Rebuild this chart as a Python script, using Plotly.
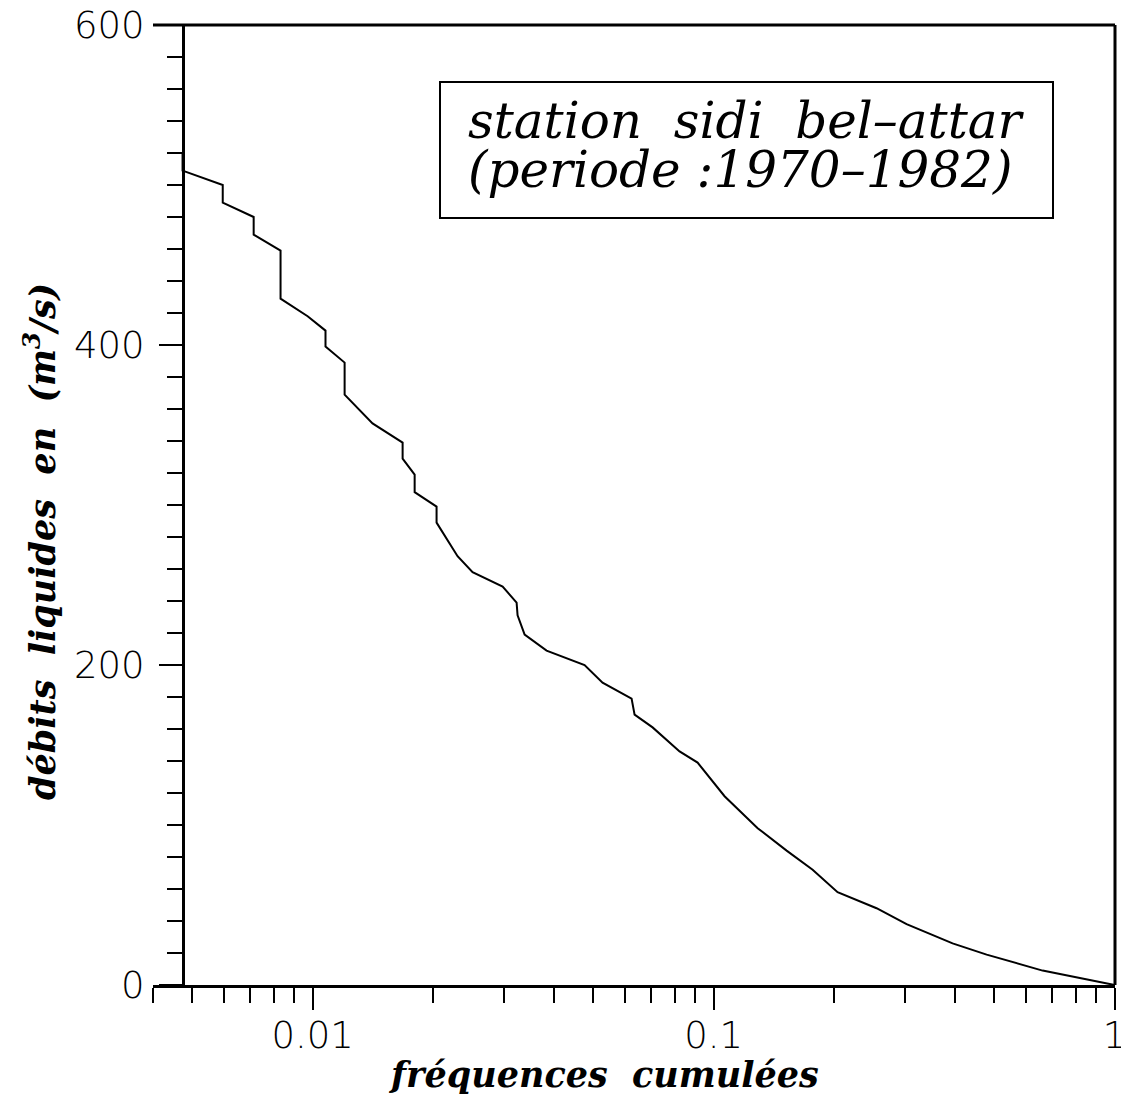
import math
import plotly.graph_objects as go

# Courbe des débits classés : fréquences cumulées (échelle log) vs débits (m3/s)
frequences = [0.00474, 0.00474, 0.00597, 0.00597, 0.00713, 0.00713, 0.00832, 0.00832,
              0.00972, 0.01077, 0.01077, 0.01202, 0.01202, 0.01411, 0.01677, 0.01677,
              0.01797, 0.01797, 0.02038, 0.02038, 0.02299, 0.02506, 0.02978, 0.03227,
              0.03245, 0.03379, 0.03833, 0.04767, 0.05286, 0.06245, 0.06353, 0.07045,
              0.08226, 0.09123, 0.1065, 0.1288, 0.1521, 0.1766, 0.2038, 0.2549,
              0.3029, 0.3945, 0.4797, 0.6614, 1.0]
debits = [520, 509, 500, 489, 480, 469, 459, 429,
          418, 409, 399, 389, 369, 351, 339, 329,
          319, 308, 299, 289, 268, 258, 249, 239,
          231, 219, 209, 200, 189, 179, 169, 161,
          146, 139, 118, 98, 84, 72, 58, 48,
          38, 26, 19, 9, 0]

x_major = [0.01, 0.1, 1]
x_major_text = ["0.01", "0.1", "1"]
x_minor = [0.004, 0.005, 0.006, 0.007, 0.008, 0.009,
           0.02, 0.03, 0.04, 0.05, 0.06, 0.07, 0.08, 0.09,
           0.2, 0.3, 0.4, 0.5, 0.6, 0.7, 0.8, 0.9]
y_major = [0, 200, 400, 600]

titre_1 = "station  sidi  bel–attar"
titre_2 = "(periode :1970–1982)"
titre_x = "fréquences  cumulées"
titre_y = "débits  liquides  en  (m<sup>3</sup>/s)"

W, H = 1121, 1097
ML, MR, MT, MB = 153, 6, 25, 112
pw = W - ML - MR
ph = H - MT - MB

tick_font = dict(family="DejaVu Sans", size=37, color="black", weight=200)
serif = dict(family="DejaVu Serif", size=50, color="black", style="italic")
serif_b = dict(family="DejaVu Serif", size=35, color="black", style="italic", weight="bold")

fig = go.Figure()
fig.add_trace(go.Scatter(x=frequences, y=debits, mode="lines",
                         line=dict(color="black", width=2), cliponaxis=False,
                         showlegend=False, hoverinfo="skip"))

fig.update_layout(
    width=W, height=H,
    margin=dict(l=ML, r=MR, t=MT, b=MB, pad=0, autoexpand=False),
    paper_bgcolor="white", plot_bgcolor="white",
    showlegend=False,
    xaxis=dict(type="log", range=[math.log10(0.004), 0.001], automargin=False,
               showgrid=False, zeroline=False,
               showline=True, linecolor="black", linewidth=3,
               ticks="outside", ticklen=22, tickwidth=2, tickcolor="black",
               tickvals=x_major, ticktext=x_major_text, tickfont=tick_font,
               ticklabelstandoff=-6, ticklabeloverflow="allow",
               minor=dict(tickvals=x_minor, ticks="outside", ticklen=15,
                          tickwidth=2, tickcolor="black", showgrid=False)),
    yaxis=dict(range=[0, 600], anchor="free", position=30 / pw, automargin=False,
               showgrid=False, zeroline=False,
               showline=True, linecolor="black", linewidth=3,
               ticks="outside", ticklen=23, tickwidth=2, tickcolor="black",
               tickvals=y_major, tickfont=tick_font, ticklabelstandoff=7,
               ticklabeloverflow="allow",
               minor=dict(dtick=20, ticks="outside", ticklen=15,
                          tickwidth=2, tickcolor="black", showgrid=False)),
)

def px_x(px):
    return (px - ML) / pw

def px_y(py):
    return (H - MB - py) / ph

# cadre (haut et droite)
fig.add_shape(type="line", xref="paper", yref="paper", x0=0, x1=1, y0=1, y1=1,
              line=dict(color="black", width=3))
fig.add_shape(type="line", xref="paper", yref="paper", x0=1, x1=1, y0=0, y1=1,
              line=dict(color="black", width=3))

# cartouche
fig.add_shape(type="rect", xref="paper", yref="paper",
              x0=px_x(440), x1=px_x(1053), y0=px_y(218), y1=px_y(82),
              line=dict(color="black", width=2), fillcolor="white")
fig.add_annotation(xref="paper", yref="paper", x=px_x(466), y=px_y(121),
                   xanchor="left", yanchor="middle", text=titre_1, showarrow=False,
                   font=serif)
fig.add_annotation(xref="paper", yref="paper", x=px_x(466), y=px_y(170),
                   xanchor="left", yanchor="middle", text=titre_2, showarrow=False,
                   font=serif)

# titres des axes
fig.add_annotation(xref="paper", yref="paper", x=px_x(603), y=px_y(1074),
                   xanchor="center", yanchor="middle", text=titre_x, showarrow=False,
                   font=serif_b)
fig.add_annotation(xref="paper", yref="paper", x=px_x(40), y=px_y(542),
                   xanchor="center", yanchor="middle", text=titre_y, showarrow=False,
                   textangle=-90, font=serif_b)

fig.write_html("out.html")
